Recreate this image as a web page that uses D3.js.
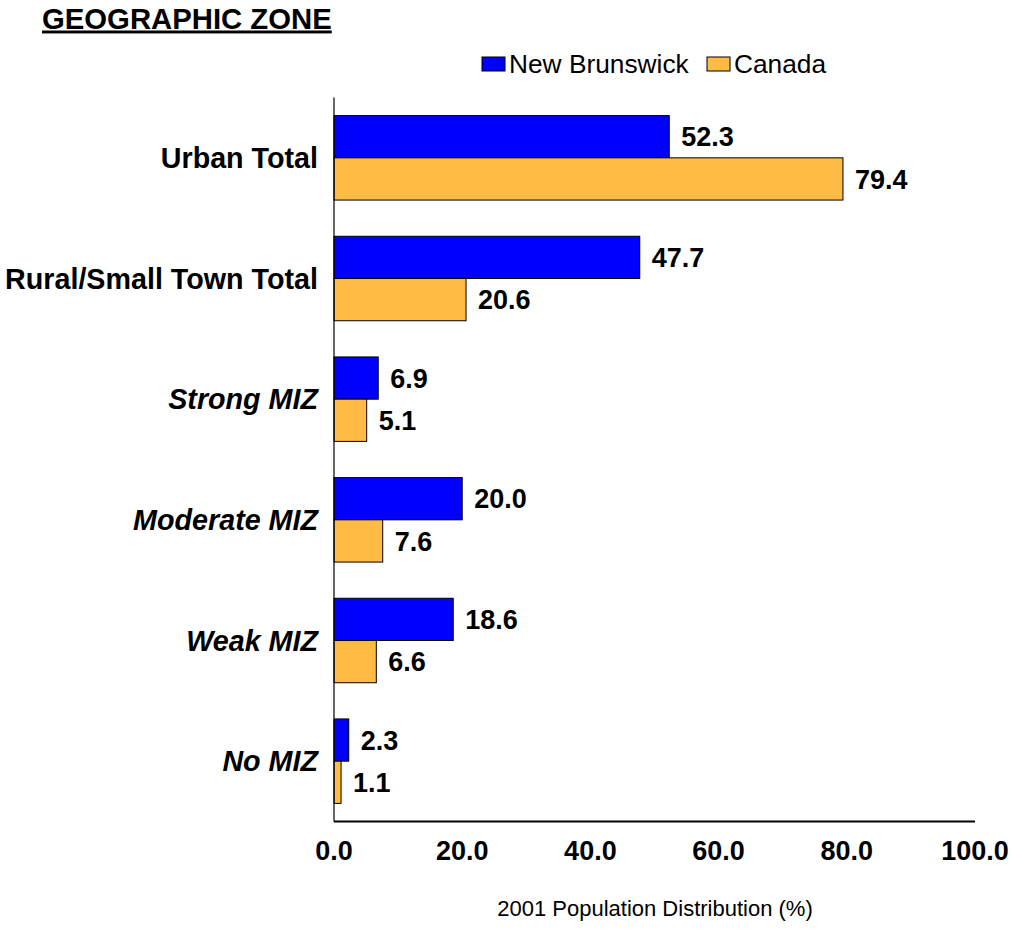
<!DOCTYPE html>
<html>
<head>
<meta charset="utf-8">
<script src="https://cdn.jsdelivr.net/npm/d3@7"></script>
<style>
  body { margin: 0; background: #fff; }
  svg text { font-family: Arial, "Liberation Sans", sans-serif; fill: #000; }
</style>
</head>
<body>
<svg id="chart" width="1013" height="939"></svg>
<script>
// Geographic zones and 2001 population distribution (%)
const zones = ["Urban Total", "Rural/Small Town Total", "Strong MIZ", "Moderate MIZ", "Weak MIZ", "No MIZ"];
const italicZones = ["Strong MIZ", "Moderate MIZ", "Weak MIZ", "No MIZ"];
const seriesNames = ["New Brunswick", "Canada"];
const newBrunswick = [52.3, 47.7, 6.9, 20.0, 18.6, 2.3];
const canada = [79.4, 20.6, 5.1, 7.6, 6.6, 1.1];
const xTicks = [0, 20, 40, 60, 80, 100];
const seriesColors = ["#0000FF", "#FFBB44"];

const svg = d3.select("#chart");
const plot = { left: 334, right: 975, top: 97.5, bottom: 821.5 };

const x = d3.scaleLinear().domain([0, 100]).range([plot.left, plot.right]);
const y = d3.scaleBand().domain(zones).range([plot.top, plot.bottom])
  .paddingInner(0.3).paddingOuter(0.15);
const ySub = d3.scaleBand().domain(seriesNames).range([0, y.bandwidth()]);

const rows = zones.map((z, i) => ({ zone: z, values: [newBrunswick[i], canada[i]] }));

// Bars
const groups = svg.append("g").selectAll("g").data(rows).join("g")
  .attr("transform", d => `translate(0,${y(d.zone)})`);

groups.selectAll("rect").data(d => d.values.map((v, k) => ({ v, k })))
  .join("rect")
  .attr("x", x(0))
  .attr("y", d => ySub(seriesNames[d.k]))
  .attr("width", d => x(d.v) - x(0))
  .attr("height", ySub.bandwidth())
  .attr("fill", d => seriesColors[d.k])
  .attr("stroke", "#000")
  .attr("stroke-width", 1);

// Value labels
groups.selectAll("text.val").data(d => d.values.map((v, k) => ({ v, k })))
  .join("text")
  .attr("class", "val")
  .attr("x", d => x(d.v) + 12)
  .attr("y", d => ySub(seriesNames[d.k]) + ySub.bandwidth() / 2)
  .attr("dy", "0.36em")
  .attr("font-size", 27)
  .attr("font-weight", "bold")
  .text(d => d.v.toFixed(1));

// Category labels
svg.append("g").selectAll("text").data(zones).join("text")
  .attr("x", 318)
  .attr("y", d => y(d) + y.bandwidth() / 2)
  .attr("dy", "0.36em")
  .attr("text-anchor", "end")
  .attr("font-size", 28.7)
  .attr("font-weight", "bold")
  .attr("font-style", d => italicZones.includes(d) ? "italic" : "normal")
  .text(d => d);

// Axis lines
svg.append("line").attr("x1", plot.left).attr("x2", plot.left)
  .attr("y1", plot.top).attr("y2", plot.bottom)
  .attr("stroke", "#000").attr("stroke-width", 1.2);
svg.append("line").attr("x1", plot.left).attr("x2", plot.right)
  .attr("y1", plot.bottom).attr("y2", plot.bottom)
  .attr("stroke", "#000").attr("stroke-width", 2);

// X tick labels
svg.append("g").selectAll("text").data(xTicks).join("text")
  .attr("x", d => x(d))
  .attr("y", 850)
  .attr("dy", "0.36em")
  .attr("text-anchor", "middle")
  .attr("font-size", 27)
  .attr("font-weight", "bold")
  .text(d => d.toFixed(1));

// X axis title
svg.append("text")
  .attr("x", 655).attr("y", 908).attr("dy", "0.36em")
  .attr("text-anchor", "middle")
  .attr("font-size", 22)
  .text("2001 Population Distribution (%)");

// Title
svg.append("text")
  .attr("x", 42).attr("y", 28.5)
  .attr("font-size", 29.3)
  .attr("font-weight", "bold")
  .attr("text-decoration", "underline")
  .text("GEOGRAPHIC ZONE");

// Legend
const legend = svg.append("g").attr("transform", "translate(482,57)");
const legendX = [0, 225];
seriesNames.forEach((name, k) => {
  const g = legend.append("g").attr("transform", `translate(${legendX[k]},0)`);
  g.append("rect").attr("width", 23).attr("height", 14)
    .attr("fill", seriesColors[k]).attr("stroke", "#000").attr("stroke-width", 1);
  g.append("text").attr("x", 27).attr("y", 7).attr("dy", "0.36em")
    .attr("font-size", 26.3).text(name);
});
</script>
</body>
</html>
